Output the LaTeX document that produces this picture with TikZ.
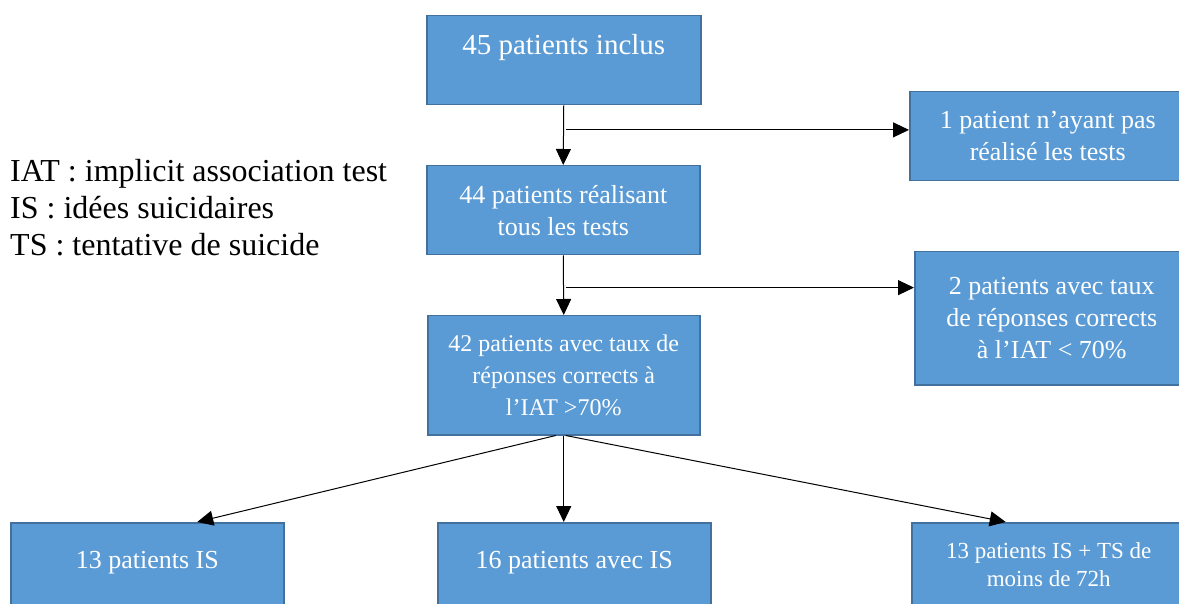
\documentclass[tikz,border=0pt]{standalone}
\usepackage{fontspec}
\setmainfont{Liberation Serif}
\usetikzlibrary{arrows.meta,calc}

\definecolor{boxfill}{RGB}{91,155,213}
\definecolor{boxedge}{RGB}{65,113,156}

\tikzset{
  flowbox/.style={draw=boxedge, fill=boxfill, line width=1.5pt, text=white,
    align=center, anchor=north west, inner sep=0pt,
    font=\fontsize{26}{32}\selectfont},
  flowarrow/.style={-{Triangle[length=16pt,width=15pt]}, line width=1pt}
}

\begin{document}
\begin{tikzpicture}[x=1pt,y=-1pt]

        \useasboundingbox (0,0) rectangle (1179,604);
        \clip (0,0) rectangle (1179,604);

        \begin{scope}[every node/.style={flowbox}]
          \node[minimum width=274pt, minimum height=89pt, font=\fontsize{29}{32}\selectfont]
            (inclus) at (426,15) {45 patients inclus\\\mbox{}};
          \node[minimum width=276pt, minimum height=89pt]
            (nontest) at (909,91) {1 patient n’ayant pas\\réalisé les tests};
          \node[minimum width=273pt, minimum height=89pt]
            (tests) at (426,165) {44 patients réalisant\\tous les tests};
          \node[minimum width=274pt, minimum height=133pt]
            (rejet) at (914,251) {2 patients avec taux\\de réponses corrects\\à l’IAT < 70\%};
          \node[minimum width=272pt, minimum height=119pt, font=\fontsize{24}{32}\selectfont]
            (retenu) at (427,315) {42 patients avec taux de\\réponses corrects à\\l’IAT >70\%};
          \node[minimum width=273pt, minimum height=84pt]
            (is) at (10,522) {13 patients IS\\[-22pt]\mbox{}};
          \node[minimum width=273pt, minimum height=84pt]
            (avecis) at (437,522) {16 patients avec IS\\[-22pt]\mbox{}};
          \node[minimum width=274pt, minimum height=84pt, font=\fontsize{23}{28}\selectfont]
            (ists) at (911,522) {13 patients IS + TS de\\moins de 72h};
        \end{scope}

        \node[anchor=west, align=left, inner sep=0pt, font=\fontsize{32}{37}\selectfont]
          (legende) at (10,208) {IAT : implicit association test\\IS : idées suicidaires\\TS : tentative de suicide};

        % points de depart des branches laterales
        \path (inclus.south) -- (tests.north) coordinate[pos=0.41] (b1);
        \path (tests.south) -- (retenu.north) coordinate[pos=0.54] (b2);

        \begin{scope}[every edge/.style={draw,flowarrow}]
          \path (inclus.south) edge (tests.north);
          \path ([xshift=2pt]b1) edge (b1 -| nontest.west);
          \path (tests.south) edge (retenu.north);
          \path ([xshift=2pt]b2) edge (b2 -| rejet.west);
          \path ([xshift=-8pt]retenu.south) edge ([xshift=50pt]is.north);
          \path (retenu.south) edge (retenu.south |- avecis.north);
          \path ([xshift=2pt]retenu.south) edge ([xshift=-43pt]ists.north);
        \end{scope}

      \end{tikzpicture}
\end{document}
